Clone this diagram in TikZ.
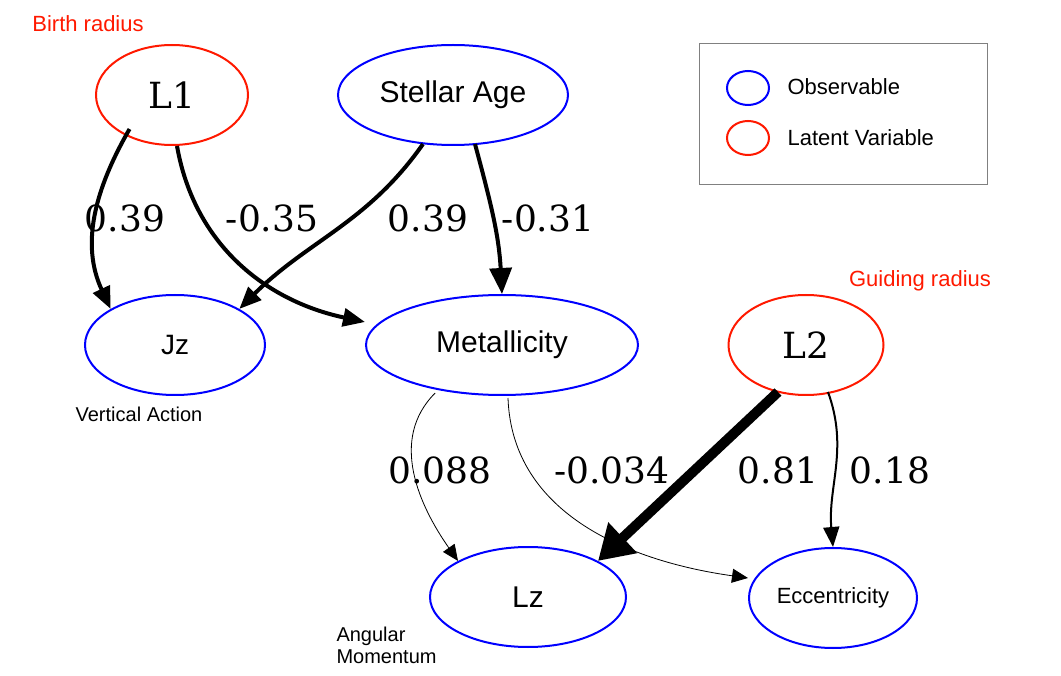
\documentclass[tikz,border=0pt]{standalone}
\usepackage{fontspec}
\setmainfont{DejaVu Serif}
\setsansfont{Liberation Sans}
\usetikzlibrary{shapes.geometric,arrows.meta}
\begin{document}
\begin{tikzpicture}[x=1pt,y=-1pt,
  obs/.style={ellipse,draw=blue,line width=2pt,inner sep=0pt},
  lat/.style={ellipse,draw=red!80!orange,line width=2pt,inner sep=0pt},
  edg/.style={draw,-{Triangle[length=26pt,width=20pt]}},
  lab/.style={font=\fontsize{36}{38}\selectfont},
  sml/.style={font=\sffamily\fontsize{20}{22}\selectfont}]
\useasboundingbox (0,0) rectangle (1061,676);
\node[lat,minimum width=152,minimum height=100,font=\fontsize{36}{38}\selectfont] (L1) at (172,95) {L1};
\node[obs,minimum width=230,minimum height=100,font=\sffamily\fontsize{30}{32}\selectfont] (SA) at (453,95) {Stellar Age};
\node[obs,minimum width=180,minimum height=100,font=\sffamily\fontsize{28}{30}\selectfont] (Jz) at (175,345) {Jz};
\node[obs,minimum width=272,minimum height=100,font=\sffamily\fontsize{30}{32}\selectfont] (Met) at (502,345) {Metallicity};
\node[lat,minimum width=155,minimum height=100,font=\fontsize{36}{38}\selectfont] (L2) at (806,345) {L2};
\node[obs,minimum width=196,minimum height=100,font=\sffamily\fontsize{30}{32}\selectfont] (Lz) at (528,597) {Lz};
\node[obs,minimum width=168,minimum height=100,font=\sffamily\fontsize{22}{24}\selectfont] (Ecc) at (833,598) {Eccentricity};
\node[font=\sffamily\fontsize{22}{24}\selectfont,text=red!80!orange] (br) at (88,24) {Birth radius};
\node[font=\sffamily\fontsize{22}{24}\selectfont,text=red!80!orange] (gr) at (920,281) {Guiding radius};
\node[sml] (va) at (139,414) {Vertical Action};
\node[sml,align=left,anchor=west] (am) at (333,645) {Angular\\Momentum};
\node[draw=gray,line width=1pt,minimum width=288,minimum height=141] (leg) at (843,114.5) {};
\node[obs,minimum width=42,minimum height=34] (lo) at (748,88) {};
\node[lat,minimum width=42,minimum height=34] (ll) at (748,138) {};
\node[sml,font=\sffamily\fontsize{22}{24}\selectfont,anchor=west] (lot) at (784,87) {Observable};
\node[sml,font=\sffamily\fontsize{22}{24}\selectfont,anchor=west] (llt) at (784,138) {Latent Variable};
\draw[edg,line width=4pt,-{Triangle[length=22pt,width=18pt]}] (L1.south west) ++(12,-2) coordinate (a1) (a1) to[out=-120,in=115] (Jz.north west) ;
\path[edg,line width=4pt,-{Triangle[length=22pt,width=18pt]}] (L1.south) ++(5,0) coordinate (a2) (a2) to[out=-80,in=168] (Met.west|-0,322);
\draw[edg,line width=4pt,-{Triangle[length=22pt,width=18pt]}] (SA.south) ++(-30,-2) coordinate (a3) (a3) to[out=-125,in=45] (Jz.north east);
\draw[edg,line width=4pt,-{Triangle[length=26pt,width=22pt]}] (SA.south) ++(22,-2) coordinate (a4) (a4) to[out=-75,in=93] (Met.north);
\draw[edg,line width=0.8pt,-{Triangle[length=16pt,width=14pt]}] (Met.south west) ++(30,12) coordinate (a5) (a5) to[out=-135,in=125] (Lz.north west);
\draw[edg,line width=0.8pt,-{Triangle[length=16pt,width=14pt]}] (Met.south) ++(6,2) coordinate (a6) (a6) to[out=-88,in=172] (Ecc.west|-0,578);
\draw[edg,line width=10pt,-{Triangle[length=34pt,width=40pt]}] (L2.south) ++(-28,-4) coordinate (a7) (a7) -- (Lz.north east);
\draw[edg,line width=2pt,-{Triangle[length=20pt,width=16pt]}] (L2.south) ++(22,-4) coordinate (a8) (a8) to[out=-70,in=95] (Ecc.north);
\node[lab] (e1) at (125,218) {0.39};
\node[lab] (e2) at (272,218) {-0.35};
\node[lab] (e3) at (428,218) {0.39};
\node[lab] (e4) at (548,218) {-0.31};
\node[lab] (e5) at (440,470) {0.088};
\node[lab] (e6) at (612,470) {-0.034};
\node[lab] (e7) at (778,470) {0.81};
\node[lab] (e8) at (890,470) {0.18};
\end{tikzpicture}
\end{document}
